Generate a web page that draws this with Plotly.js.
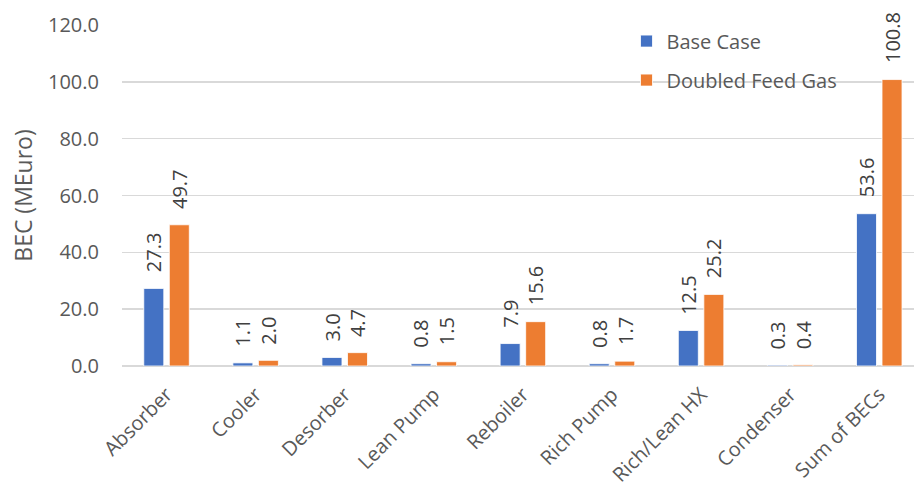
<!DOCTYPE html>
<html>
<head>
<meta charset="utf-8">
<script src="https://cdn.plot.ly/plotly-3.0.1.min.js"></script>
<style>
  html, body { margin: 0; padding: 0; background: #fff; }
  #chart { width: 914px; height: 488px; }
</style>
</head>
<body>
<div id="chart"></div>
<script>
// Bare erected cost per equipment item, in MEuro
const categories = ["Absorber", "Cooler", "Desorber", "Lean Pump", "Reboiler",
                    "Rich Pump", "Rich/Lean HX", "Condenser", "Sum of BECs"];
const baseCase = [27.3, 1.1, 3.0, 0.8, 7.9, 0.8, 12.5, 0.3, 53.6];
const doubledFeed = [49.7, 2.0, 4.7, 1.5, 15.6, 1.7, 25.2, 0.4, 100.8];
const yTicks = [0, 20, 40, 60, 80, 100, 120];

const FONT = "'Open Sans', 'Noto Sans', sans-serif";
const GREY = "#595959";
const BLUE = "#4472C4";
const ORANGE = "#ED7D31";

const traces = [
  {
    type: "bar", name: "Base Case", x: categories, y: baseCase,
    marker: { color: BLUE, line: { color: "#ffffff", width: 0.8 } },
    legendgroup: "a", hoverinfo: "x+y"
  },
  {
    type: "bar", name: "Doubled Feed Gas", x: categories, y: doubledFeed,
    marker: { color: ORANGE, line: { color: "#ffffff", width: 0.8 } },
    legendgroup: "b", hoverinfo: "x+y"
  }
];

// Value labels, rotated, above each bar
const annotations = [];
const offsets = [-0.143, 0.143];
[baseCase, doubledFeed].forEach((series, s) => {
  series.forEach((v, i) => {
    annotations.push({
      x: i + offsets[s], y: v, xref: "x", yref: "y",
      text: v.toFixed(1), showarrow: false, textangle: -90,
      xanchor: "center", yanchor: "bottom", yshift: 14,
      font: { family: FONT, size: 20, color: "#404040" }
    });
  });
});

const layout = {
  width: 914, height: 488,
  margin: { l: 122, r: 0, t: 25, b: 122 },
  paper_bgcolor: "#ffffff", plot_bgcolor: "#ffffff",
  barmode: "group", bargap: 0.427, bargroupgap: 0.216,
  font: { family: FONT, color: GREY, size: 20 },
  xaxis: {
    type: "category", range: [-0.5, 8.39],
    tickangle: -45, ticks: "", showgrid: false, showline: false,
    ticklabelstandoff: 12,
    tickfont: { family: FONT, size: 20, color: GREY }
  },
  yaxis: {
    range: [0, 120], tickvals: yTicks,
    ticktext: yTicks.map(v => v.toFixed(1)),
    showgrid: true, gridcolor: "#d9d9d9", gridwidth: 1.5,
    zeroline: true, zerolinecolor: "#d9d9d9", zerolinewidth: 1.5,
    showline: false, ticks: "", ticklabelstandoff: 22,
    tickfont: { family: FONT, size: 20, color: GREY },
    title: { text: "BEC (MEuro)", standoff: 8, font: { family: FONT, size: 23, color: GREY } }
  },
  legend: {
    x: 0.637, y: 1.01, xanchor: "left", yanchor: "top",
    bgcolor: "rgba(0,0,0,0)", tracegroupgap: 10,
    font: { family: FONT, size: 20, color: GREY },
    itemwidth: 30
  },
  annotations: annotations
};

Plotly.newPlot("chart", traces, layout, { staticPlot: true });
</script>
</body>
</html>
